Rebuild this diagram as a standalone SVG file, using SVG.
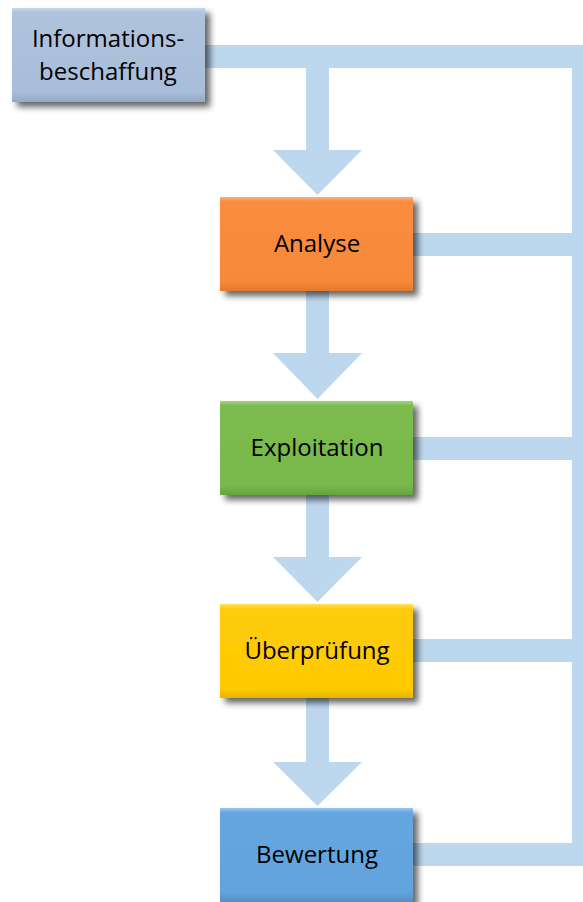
<svg xmlns="http://www.w3.org/2000/svg" width="583" height="902" viewBox="0 0 583 902">
<style>
.conn{fill:#BDD7EE}
.lbl{font-family:"Open Sans","Liberation Sans",sans-serif;font-size:24px;fill:#000;text-anchor:middle}
</style>
<defs>
<filter id="sh" x="-10%" y="-10%" width="130%" height="140%">
<feDropShadow dx="5" dy="5" stdDeviation="3" flood-color="#000" flood-opacity="0.6"/>
</filter>
<linearGradient id="gInfo" x1="0" y1="0" x2="0" y2="1">
<stop offset="0" stop-color="#C6D6EA"/><stop offset="0.05" stop-color="#AFC3DD"/><stop offset="0.9" stop-color="#A8BDD9"/><stop offset="1" stop-color="#93A9C6"/>
</linearGradient>
<linearGradient id="gAna" x1="0" y1="0" x2="0" y2="1">
<stop offset="0" stop-color="#FBB07A"/><stop offset="0.05" stop-color="#F98C3E"/><stop offset="0.9" stop-color="#F8893A"/><stop offset="1" stop-color="#E0782E"/>
</linearGradient>
<linearGradient id="gExp" x1="0" y1="0" x2="0" y2="1">
<stop offset="0" stop-color="#A4D67E"/><stop offset="0.05" stop-color="#7CBB4E"/><stop offset="0.9" stop-color="#79B84B"/><stop offset="1" stop-color="#68A23F"/>
</linearGradient>
<linearGradient id="gUeb" x1="0" y1="0" x2="0" y2="1">
<stop offset="0" stop-color="#FFE066"/><stop offset="0.05" stop-color="#FFCC08"/><stop offset="0.9" stop-color="#FFCB05"/><stop offset="1" stop-color="#E6B400"/>
</linearGradient>
<linearGradient id="gBew" x1="0" y1="0" x2="0" y2="1">
<stop offset="0" stop-color="#98C6F0"/><stop offset="0.05" stop-color="#66A6E0"/><stop offset="0.9" stop-color="#62A3DE"/><stop offset="1" stop-color="#558FC4"/>
</linearGradient>
</defs>
<g id="connectors">
<rect class="conn" x="200" y="45" width="383" height="23"/>
<rect class="conn" x="572" y="45" width="11" height="821"/>
<rect class="conn" x="410" y="233" width="173" height="23"/>
<rect class="conn" x="410" y="437" width="173" height="23"/>
<rect class="conn" x="410" y="639" width="173" height="23"/>
<rect class="conn" x="410" y="843" width="173" height="23"/>
<path class="conn" d="M306,68 H329 V150 H362 L317.5,195 L273,150 H306 Z"/>
<path class="conn" d="M306,290 H329 V353 H362 L317.5,399 L273,353 H306 Z"/>
<path class="conn" d="M306,494 H329 V557 H362 L317.5,602 L273,557 H306 Z"/>
<path class="conn" d="M306,697 H329 V762 H362 L317.5,806 L273,762 H306 Z"/>
</g>
<g id="info">
<rect x="12" y="8" width="193" height="94" fill="url(#gInfo)" filter="url(#sh)"/>
<text class="lbl" x="108" y="47">Informations-</text>
<text class="lbl" x="108" y="80">beschaffung</text>
</g>
<g id="analyse">
<rect x="220" y="197" width="193" height="94" fill="url(#gAna)" filter="url(#sh)"/>
<text class="lbl" x="317" y="252">Analyse</text>
</g>
<g id="exploitation">
<rect x="220" y="401" width="193" height="94" fill="url(#gExp)" filter="url(#sh)"/>
<text class="lbl" x="317" y="456">Exploitation</text>
</g>
<g id="ueberpruefung">
<rect x="220" y="604" width="193" height="94" fill="url(#gUeb)" filter="url(#sh)"/>
<text class="lbl" x="317" y="659">Überprüfung</text>
</g>
<g id="bewertung">
<rect x="220" y="808" width="193" height="94" fill="url(#gBew)" filter="url(#sh)"/>
<text class="lbl" x="317" y="863">Bewertung</text>
</g>
</svg>
